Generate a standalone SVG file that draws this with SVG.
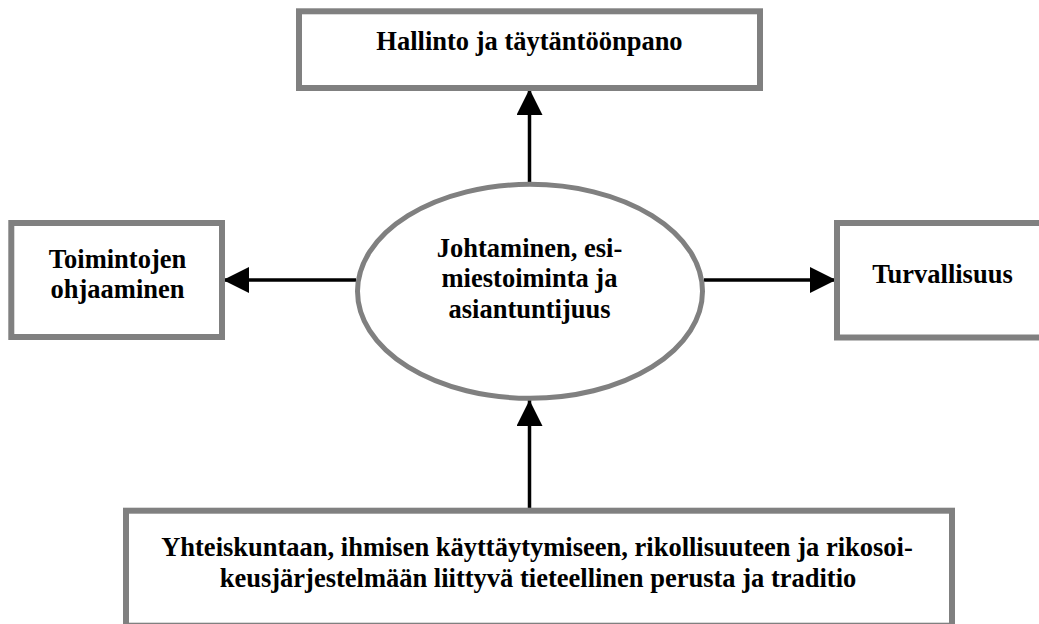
<svg xmlns="http://www.w3.org/2000/svg" width="1039" height="624" viewBox="0 0 1039 624">
  <style>
    .box { fill: #ffffff; stroke: #808080; stroke-width: 6; }
    .oval { fill: #ffffff; stroke: #808080; stroke-width: 5; }
    .lbl { font-family: "Liberation Serif", "Times New Roman", serif; font-weight: bold; font-size: 26.5px; fill: #000000; text-anchor: middle; }
    .conn { stroke: #000000; stroke-width: 3.5; fill: none; marker-end: url(#arrow); }
  </style>
  <defs>
    <marker id="arrow" markerUnits="userSpaceOnUse" markerWidth="26" markerHeight="26" refX="26" refY="13" orient="auto">
      <path d="M0,0 L26,13 L0,26 Z" fill="#000000"/>
    </marker>
  </defs>
  <rect x="0" y="0" width="1039" height="624" fill="#ffffff"/>

  <g id="connectors">
    <line class="conn" x1="529.5" y1="183" x2="529.5" y2="89"/>
    <line class="conn" x1="356" y1="280" x2="223" y2="280"/>
    <line class="conn" x1="704" y1="280" x2="836" y2="280"/>
    <line class="conn" x1="529.5" y1="510" x2="529.5" y2="400"/>
  </g>

  <g id="node-hallinto">
    <rect class="box" x="299" y="11.3" width="461" height="76.7"/>
    <text class="lbl" x="529.5" y="50">Hallinto ja täytäntöönpano</text>
  </g>

  <g id="node-toimintojen">
    <rect class="box" x="11.3" y="223" width="210.7" height="114"/>
    <text class="lbl" x="117.5" y="268.3">Toimintojen</text>
    <text class="lbl" x="117.5" y="298.3">ohjaaminen</text>
  </g>

  <g id="node-turvallisuus">
    <rect class="box" x="837" y="223" width="260" height="114.5"/>
    <text class="lbl" x="942.5" y="282.5">Turvallisuus</text>
  </g>

  <g id="node-johtaminen">
    <ellipse class="oval" cx="530" cy="291.3" rx="172.5" ry="107"/>
    <text class="lbl" x="529.5" y="256.5">Johtaminen, esi-</text>
    <text class="lbl" x="529.5" y="287">miestoiminta ja</text>
    <text class="lbl" x="529.5" y="317.5">asiantuntijuus</text>
  </g>

  <g id="node-perusta">
    <rect class="box" x="126" y="510.7" width="826" height="115"/>
    <text class="lbl" x="537" y="556">Yhteiskuntaan, ihmisen käyttäytymiseen, rikollisuuteen ja rikosoi-</text>
    <text class="lbl" x="538" y="587">keusjärjestelmään liittyvä tieteellinen perusta ja traditio</text>
  </g>
</svg>
